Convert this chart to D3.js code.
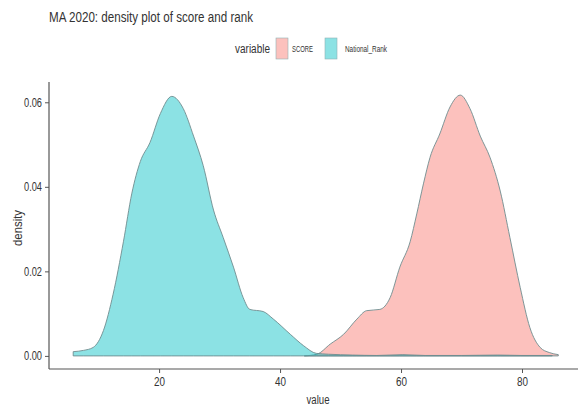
<!DOCTYPE html>
<html>
  <head>
    <script src="https://cdnjs.cloudflare.com/ajax/libs/d3/7.8.5/d3.min.js"></script>
    <style>
      body { margin: 0; background: #fff; }
      text { font-family: "Liberation Sans Narrow", "Liberation Sans", Arial, sans-serif; fill: #333; }
      .area { stroke-width: 0.9; }
    </style>
  </head>
  <body>
    <svg width="578" height="407"></svg>
    <script>
      // density curves
      var scoreX = [44, 46.1, 48.3, 50.5, 52.7, 54.3, 56.5, 58.2, 59.8, 61.5, 62.6, 63.7, 64.8, 66.4, 68.1, 69.8, 71.4, 73.1, 74.7, 76.4, 78.0, 79.7, 81.3, 83.0, 84.5, 86];
      var scoreY = [0, 0.0004, 0.0028, 0.0051, 0.0087, 0.0107, 0.0110, 0.0138, 0.0210, 0.0270, 0.0336, 0.0407, 0.0470, 0.0525, 0.0589, 0.0617, 0.0585, 0.0520, 0.0470, 0.0390, 0.0280, 0.0162, 0.0067, 0.0020, 0.0008, 0.0003];
      var rankX = [5.8, 7.5, 9.1, 10.8, 12.4, 14.1, 15.5, 16.9, 18.5, 20.2, 22.1, 24.0, 25.7, 27.3, 29.0, 30.6, 32.3, 33.9, 35.0, 37.2, 38.9, 41.7, 43.9, 46.0, 48, 52, 56, 60.3, 64, 70, 76, 80, 85];
      var rankY = [0.0010, 0.0013, 0.0020, 0.0060, 0.0146, 0.0270, 0.0385, 0.0460, 0.0505, 0.0573, 0.0614, 0.0585, 0.0520, 0.0450, 0.0345, 0.0280, 0.0210, 0.0138, 0.0110, 0.0105, 0.0087, 0.0051, 0.0024, 0.0006, 0.0004, 0.0002, 0.0001, 0.0003, 0.0001, 0.0001, 0.0002, 0.0001, 0.0001];

      var seriesNames = ["SCORE", "National_Rank"];
      var seriesColors = ["#F8766D", "#00BFC4"];
      var xTicks = [20, 40, 60, 80];
      var yTicks = [0, 0.02, 0.04, 0.06];

      var svg = d3.select("svg");

      var x = d3.scaleLinear().domain([1.8, 90]).range([49, 582.5]);
      var y = d3.scaleLinear().domain([-0.0031, 0.0648]).range([369, 82]);

      var series = [
        { name: seriesNames[0], color: seriesColors[0], pts: scoreX.map(function(v, i) { return [v, scoreY[i]]; }) },
        { name: seriesNames[1], color: seriesColors[1], pts: rankX.map(function(v, i) { return [v, rankY[i]]; }) }
      ];

      var area = d3.area()
          .curve(d3.curveMonotoneX)
          .x(function(d) { return x(d[0]); })
          .y0(y(0))
          .y1(function(d) { return y(d[1]); });

      svg.selectAll(".area")
        .data(series)
        .enter().append("path")
          .attr("class", "area")
          .attr("d", function(d) { return area(d.pts); })
          .attr("fill", function(d) { return d.color; })
          .attr("fill-opacity", 0.45)
          .attr("stroke", "#6f8c8e");

      // axes
      var xAxis = svg.append("g")
          .attr("transform", "translate(0,369)")
          .call(d3.axisBottom(x).tickValues(xTicks).tickSize(4).tickPadding(4).tickFormat(d3.format("d")));
      xAxis.select(".domain").attr("d", "M49,0H578").attr("stroke", "#555").attr("stroke-width", 1.2);
      xAxis.selectAll(".tick text").attr("textLength", 11).attr("lengthAdjust", "spacingAndGlyphs");

      var yAxis = svg.append("g")
          .attr("transform", "translate(49,0)")
          .call(d3.axisLeft(y).tickValues(yTicks).tickSize(4).tickPadding(3).tickFormat(d3.format(".2f")));
      yAxis.select(".domain").attr("d", "M0,82V369").attr("stroke", "#555").attr("stroke-width", 1.2);
      yAxis.selectAll(".tick text").attr("textLength", 18).attr("lengthAdjust", "spacingAndGlyphs");

      svg.selectAll(".tick line").attr("stroke", "#555");
      svg.selectAll(".tick text")
          .style("font-family", "'Liberation Sans Narrow', 'Liberation Sans', Arial, sans-serif")
          .style("font-size", "12px")
          .attr("fill", "#444");

      // labels
      svg.append("text")
          .attr("x", 49).attr("y", 22)
          .attr("textLength", 204).attr("lengthAdjust", "spacingAndGlyphs")
          .style("font-size", "14px")
          .text("MA 2020: density plot of score and rank");

      svg.append("text")
          .attr("x", 318).attr("y", 404)
          .attr("text-anchor", "middle")
          .attr("textLength", 23).attr("lengthAdjust", "spacingAndGlyphs")
          .style("font-size", "12px")
          .text("value");

      svg.append("text")
          .attr("transform", "translate(22,228) rotate(-90)")
          .attr("text-anchor", "middle")
          .attr("textLength", 36).attr("lengthAdjust", "spacingAndGlyphs")
          .style("font-size", "12px")
          .text("density");

      // legend
      var legend = svg.append("g");
      legend.append("text")
          .attr("x", 235).attr("y", 53)
          .attr("textLength", 35).attr("lengthAdjust", "spacingAndGlyphs")
          .style("font-size", "12px")
          .text("variable");

      var legX = [276, 325];
      var labX = [292, 345];
      var labW = [21, 42];
      series.forEach(function(s, i) {
        legend.append("rect")
            .attr("x", legX[i]).attr("y", 38)
            .attr("width", 12).attr("height", 21)
            .attr("fill", s.color).attr("fill-opacity", 0.45)
            .attr("stroke", "#8fb3b5").attr("stroke-width", 0.6);
        legend.append("text")
            .attr("x", labX[i]).attr("y", 52)
            .attr("textLength", labW[i]).attr("lengthAdjust", "spacingAndGlyphs")
            .style("font-size", "9.5px")
            .text(s.name);
      });
    </script>
  </body>
</html>
